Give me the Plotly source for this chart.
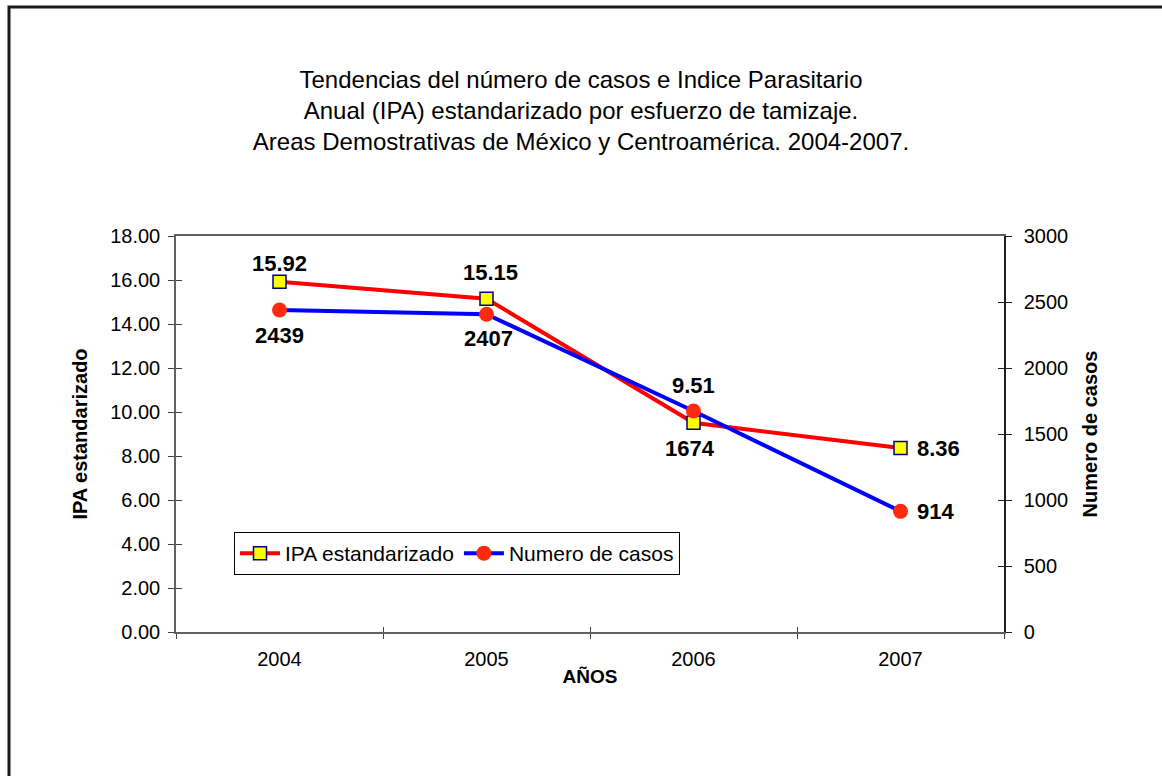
import plotly.graph_objects as go

years = ["2004", "2005", "2006", "2007"]
ipa = [15.92, 15.15, 9.51, 8.36]
casos = [2439, 2407, 1674, 914]
ipa_labels = ["15.92", "15.15", "9.51", "8.36"]
casos_labels = ["2439", "2407", "1674", "914"]
left_ticks = [0, 2, 4, 6, 8, 10, 12, 14, 16, 18]
right_ticks = [0, 500, 1000, 1500, 2000, 2500, 3000]

# label placement (style only)
ipa_lab_shift = [(0, 18), (4, 26), (0, 37), (14, 0)]
casos_lab_shift = [(0, -25), (2, -24), (-4, -37), (14, 0)]

FONT = "Liberation Sans, Arial, sans-serif"
W, H = 1162, 776
L, R, T, B = 176, 158, 236, 144
PW, PH = W - L - R, H - T - B

fig = go.Figure()
fig.add_trace(go.Scatter(
    x=years, y=ipa, name="IPA estandarizado", mode="lines+markers",
    line=dict(color="#FF0000", width=4),
    marker=dict(symbol="square", size=13, color="#FFFF00",
                line=dict(color="#000080", width=1.5)),
    yaxis="y", xaxis="x", hoverinfo="skip"))
fig.add_trace(go.Scatter(
    x=years, y=casos, name="Numero de casos", mode="lines+markers",
    line=dict(color="#0000FF", width=4),
    marker=dict(symbol="circle", size=15, color="#FF2A10"),
    yaxis="y2", xaxis="x", hoverinfo="skip"))
# dummy traces so the inside-tick overlay axes get drawn
fig.add_trace(go.Scatter(x=[None], y=[None], xaxis="x2", yaxis="y3", showlegend=False, hoverinfo="skip"))
fig.add_trace(go.Scatter(x=[None], y=[None], xaxis="x2", yaxis="y4", showlegend=False, hoverinfo="skip"))

ann = []
for i, (v, lab) in enumerate(zip(ipa, ipa_labels)):
    dx, dy = ipa_lab_shift[i]
    ann.append(dict(x=i, y=v, xref="x", yref="y", text=lab, showarrow=False,
                    xshift=dx, yshift=dy, xanchor="left" if i == 3 else "center",
                    font=dict(family=FONT, size=22, color="black", weight="bold")))
for i, (v, lab) in enumerate(zip(casos, casos_labels)):
    dx, dy = casos_lab_shift[i]
    ann.append(dict(x=i, y=v, xref="x", yref="y2", text=lab, showarrow=False,
                    xshift=dx, yshift=dy, xanchor="left" if i == 3 else "center",
                    font=dict(family=FONT, size=22, color="black", weight="bold")))

frame = dict(type="rect", xref="paper", yref="paper",
             x0=(9 - L) / PW, x1=(W + 20 - L) / PW,
             y0=(T + PH - (H + 20)) / PH, y1=(T + PH - 7) / PH,
             line=dict(color="#1a1a1a", width=3), fillcolor="rgba(0,0,0,0)", layer="below")

fig.update_layout(
    width=W, height=H,
    margin=dict(l=L, r=R, t=T, b=B),
    paper_bgcolor="white", plot_bgcolor="white",
    font=dict(family=FONT, color="black"),
    title=dict(
        text="Tendencias del número de casos e Indice Parasitario<br>"
             "Anual (IPA) estandarizado por esfuerzo de tamizaje.<br>"
             "Areas Demostrativas de México y Centroamérica. 2004-2007.",
        x=0.5, xref="container", xanchor="center",
        y=1 - 88 / H, yref="container", yanchor="top",
        font=dict(family=FONT, size=24, color="black")),
    xaxis=dict(
        type="category", categoryorder="array", categoryarray=years,
        range=[-0.5, 3.5], tickson="boundaries", ticks="outside", ticklen=5,
        tickcolor="#404040", showline=True, linecolor="#606060", linewidth=1.5,
        mirror=True, showgrid=False, zeroline=False, ticklabelstandoff=8,
        tickfont=dict(family=FONT, size=20),
        title=dict(text="AÑOS", standoff=1,
                   font=dict(family=FONT, size=19, weight="bold")),
    ),
    xaxis2=dict(overlaying="x", range=[-0.5, 3.5], tickmode="array",
                tickvals=[-0.5, 0.5, 1.5, 2.5, 3.5], ticks="inside", ticklen=5,
                tickcolor="#404040", showticklabels=False, showgrid=False,
                zeroline=False, showline=False, anchor="y"),
    yaxis=dict(
        range=[0, 18], tickvals=left_ticks, tickformat=".2f",
        ticks="outside", ticklen=6, tickcolor="#404040",
        showline=True, linecolor="#606060", linewidth=1.5,
        showgrid=False, zeroline=False, ticklabelstandoff=4,
        tickfont=dict(family=FONT, size=20),
        title=dict(text="IPA estandarizado", standoff=17,
                   font=dict(family=FONT, size=20, weight="bold")),
    ),
    yaxis2=dict(
        range=[0, 3000], tickvals=right_ticks, overlaying="y", side="right",
        anchor="x", ticks="outside", ticklen=6, tickcolor="#202020",
        showline=True, linecolor="#202020", linewidth=1.5,
        showgrid=False, zeroline=False, ticklabelstandoff=8,
        tickfont=dict(family=FONT, size=20),
        title=dict(text="Numero de casos", standoff=16,
                   font=dict(family=FONT, size=20, weight="bold")),
    ),
    yaxis3=dict(range=[0, 18], tickvals=left_ticks, overlaying="y", side="left",
                anchor="x2", ticks="inside", ticklen=6, tickcolor="#404040",
                showticklabels=False, showgrid=False, zeroline=False, showline=False),
    yaxis4=dict(range=[0, 3000], tickvals=right_ticks, overlaying="y", side="right",
                anchor="x2", ticks="inside", ticklen=6, tickcolor="#202020",
                showticklabels=False, showgrid=False, zeroline=False, showline=False),
    legend=dict(
        orientation="h", x=(234 - L) / PW, xanchor="left",
        y=(T + PH - 532) / PH, yanchor="top",
        bgcolor="white", bordercolor="black", borderwidth=1,
        font=dict(family=FONT, size=21), itemwidth=40,
        tracegroupgap=0, traceorder="normal",
    ),
    annotations=ann,
    shapes=[frame],
    showlegend=True,
)

fig.write_html("out.html", config={"displayModeBar": False},
               post_script="document.body.style.margin='0';document.body.style.overflow='hidden';")
